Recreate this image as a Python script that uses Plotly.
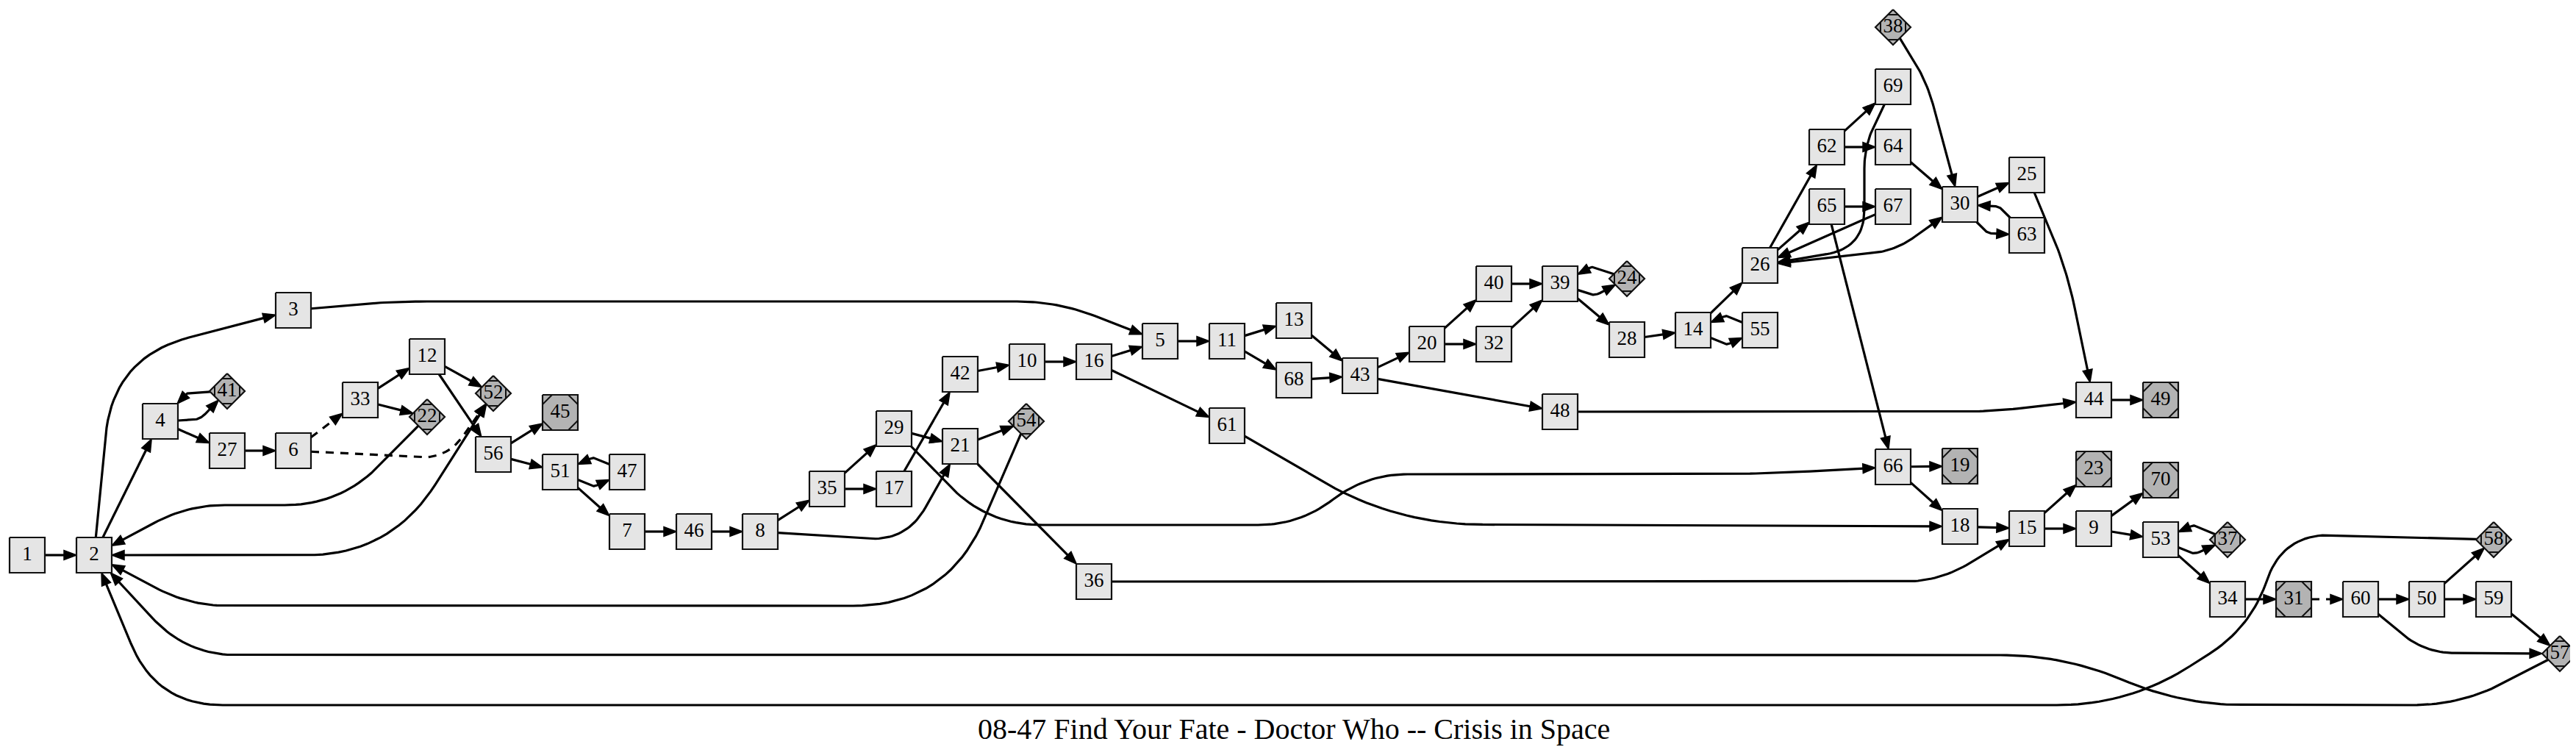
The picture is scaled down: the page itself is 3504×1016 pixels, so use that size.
import math
import plotly.graph_objects as go

W, H = 3504, 1016
TITLE = "08-47 Find Your Fate - Doctor Who -- Crisis in Space"

# ---- nodes (ids and positions) ----
node_ids = ["1", "2", "3", "4", "41", "27", "6", "33", "12", "22", "52", "56", "45", "51", "47",
            "7", "46", "8", "35", "29", "17", "42", "21", "10", "16", "54", "5", "11", "13", "68",
            "43", "61", "36", "20", "40", "32", "39", "24", "28", "14", "55", "26", "48", "62",
            "65", "69", "64", "67", "38", "30", "66", "19", "18", "25", "63", "44", "49", "23",
            "70", "15", "9", "53", "37", "34", "31", "60", "50", "59", "58", "57"]
node_x = [29, 120, 391, 210, 301, 301, 391, 482, 573, 573, 663, 663, 754, 754, 845,
          845, 936, 1026, 1117, 1208, 1208, 1298, 1298, 1389, 1480, 1388, 1570, 1661, 1752, 1752,
          1842, 1661, 1480, 1933, 2024, 2024, 2114, 2205, 2205, 2295, 2386, 2386, 2114, 2477,
          2477, 2567, 2567, 2567, 2567, 2658, 2567, 2658, 2658, 2749, 2749, 2840, 2931, 2840,
          2931, 2749, 2840, 2931, 3022, 3022, 3112, 3203, 3293, 3384, 3384, 3474]
node_y = [747, 747, 414, 565, 524, 605, 605, 536, 477, 559, 527, 610, 553, 634, 634,
          715, 715, 715, 657, 575, 657, 501, 599, 484, 484, 565, 456, 456, 428, 509,
          503, 571, 783, 460, 378, 460, 378, 371, 454, 441, 441, 353, 552, 192,
          273, 110, 192, 273, 29, 270, 627, 626, 708, 230, 312, 536, 536, 630,
          645, 711, 711, 726, 726, 807, 807, 807, 807, 807, 726, 881]
diamond_ids = ["41", "22", "52", "54", "24", "38", "37", "58", "57"]
msquare_ids = ["45", "19", "49", "23", "70", "31"]

# ---- edges ----
edges = [("1", "2"), ("2", "3"), ("2", "4"), ("2", "52"), ("3", "5"), ("4", "41"), ("41", "4"),
         ("4", "27"), ("27", "6"), ("6", "33"), ("6", "52"), ("33", "12"), ("33", "22"),
         ("12", "52"), ("12", "56"), ("22", "2"), ("56", "45"), ("56", "51"), ("51", "47"),
         ("47", "51"), ("51", "7"), ("7", "46"), ("46", "8"), ("8", "35"), ("8", "21"),
         ("35", "29"), ("35", "17"), ("17", "42"), ("29", "21"), ("29", "66"), ("42", "10"),
         ("10", "16"), ("16", "5"), ("16", "61"), ("21", "54"), ("21", "36"), ("54", "2"),
         ("5", "11"), ("11", "13"), ("11", "68"), ("13", "43"), ("68", "43"), ("43", "20"),
         ("43", "48"), ("61", "18"), ("36", "15"), ("20", "40"), ("20", "32"), ("40", "39"),
         ("32", "39"), ("39", "24"), ("24", "39"), ("39", "28"), ("28", "14"), ("14", "55"),
         ("55", "14"), ("14", "26"), ("26", "62"), ("26", "65"), ("26", "30"), ("62", "69"),
         ("62", "64"), ("65", "67"), ("65", "66"), ("69", "26"), ("67", "26"), ("64", "30"),
         ("38", "30"), ("30", "25"), ("30", "63"), ("63", "30"), ("25", "44"), ("48", "44"),
         ("44", "49"), ("66", "19"), ("66", "18"), ("18", "15"), ("15", "23"), ("15", "9"),
         ("9", "70"), ("9", "53"), ("53", "37"), ("37", "53"), ("53", "34"), ("34", "31"),
         ("31", "60"), ("60", "50"), ("60", "57"), ("50", "58"), ("50", "59"), ("59", "57"),
         ("57", "2"), ("58", "2")]
dashed_edges = [("6", "33"), ("6", "52"), ("31", "60")]
both_edges = [("2", "52"), ("26", "30")]
edge_bends = {
    ("2", "3"): [(146, 478)],
    ("3", "5"): [(520, 402), (1430, 402)],
    ("22", "2"): [(455, 679), (247, 679)],
    ("2", "52"): [(523, 747)],
    ("6", "52"): [(600, 616)],
    ("54", "2"): [(1280, 816), (250, 816)],
    ("57", "2"): [(3340, 951), (2960, 951), (2800, 883), (246, 883)],
    ("58", "2"): [(3097, 718), (3054, 845), (2888, 951), (205, 951)],
    ("29", "66"): [(1335, 706), (1760, 706), (1850, 637), (2380, 637)],
    ("61", "18"): [(1890, 705)],
    ("8", "21"): [(1225, 728)],
    ("36", "15"): [(2630, 783)],
    ("25", "44"): [(2803, 357)],
    ("38", "30"): [(2613, 103)],
    ("48", "44"): [(2700, 552)],
    ("69", "26"): [(2528, 190), (2528, 329)],
    ("26", "30"): [(2570, 333)],
    ("60", "57"): [(3290, 880)],
}

# ---- styling constants ----
HALF = 24
AL, AW = 17, 6.5
PAIR_OFF = 20
FONT = "Liberation Serif, Times New Roman, serif"

pos = {n: (x, y) for n, x, y in zip(node_ids, node_x, node_y)}
dset, mset = set(diamond_ids), set(msquare_ids)
edge_set = set(edges)


def unit(dx, dy):
    l = math.hypot(dx, dy) or 1.0
    return dx / l, dy / l


def clip(nid, tx, ty):
    cx, cy = pos[nid]
    ux, uy = unit(tx - cx, ty - cy)
    if nid in dset:
        s = 1.0 / (abs(ux) / HALF + abs(uy) / HALF)
    else:
        s = min(HALF / abs(ux) if abs(ux) > 1e-9 else 1e9, HALF / abs(uy) if abs(uy) > 1e-9 else 1e9)
    return cx + s * ux, cy + s * uy


def smooth(pts, R=170):
    out = [pts[0]]
    for i in range(1, len(pts) - 1):
        p0, p1, p2 = pts[i - 1], pts[i], pts[i + 1]
        lin = math.hypot(p1[0] - p0[0], p1[1] - p0[1])
        lout = math.hypot(p2[0] - p1[0], p2[1] - p1[1])
        d = min(0.5 * lin, 0.5 * lout, R)
        ui = unit(p1[0] - p0[0], p1[1] - p0[1])
        uo = unit(p2[0] - p1[0], p2[1] - p1[1])
        a = (p1[0] - d * ui[0], p1[1] - d * ui[1])
        b = (p1[0] + d * uo[0], p1[1] + d * uo[1])
        for k in range(21):
            t = k / 20
            x = (1 - t) ** 2 * a[0] + 2 * (1 - t) * t * p1[0] + t * t * b[0]
            y = (1 - t) ** 2 * a[1] + 2 * (1 - t) * t * p1[1] + t * t * b[1]
            out.append((x, y))
    out.append(pts[-1])
    return out


def arrow(tip, u):
    bx, by = tip[0] - AL * u[0], tip[1] - AL * u[1]
    px, py = -u[1], u[0]
    return [tip, (bx + AW * px, by + AW * py), (bx - AW * px, by - AW * py), tip]


solid_x, solid_y, dash_x, dash_y, ah_x, ah_y = [], [], [], [], [], []
for (s, t) in edges:
    bends = list(edge_bends.get((s, t), []))
    if not bends and (t, s) in edge_set:
        (sx, sy), (tx, ty) = pos[s], pos[t]
        u = unit(tx - sx, ty - sy)
        bends = [((sx + tx) / 2 - u[1] * PAIR_OFF, (sy + ty) / 2 + u[0] * PAIR_OFF)]
    first = bends[0] if bends else pos[t]
    last = bends[-1] if bends else pos[s]
    start = clip(s, *first)
    end = clip(t, *last)
    ue = unit(end[0] - last[0], end[1] - last[1]) if bends else unit(end[0] - start[0], end[1] - start[1])
    ah = arrow(end, ue)
    ah_x += [p[0] for p in ah] + [None]
    ah_y += [p[1] for p in ah] + [None]
    line_end = (end[0] - AL * ue[0] * 0.9, end[1] - AL * ue[1] * 0.9)
    line_start = start
    if (s, t) in both_edges:
        us = unit(first[0] - start[0], first[1] - start[1])
        ah2 = arrow(start, (-us[0], -us[1]))
        ah_x += [p[0] for p in ah2] + [None]
        ah_y += [p[1] for p in ah2] + [None]
        line_start = (start[0] + AL * us[0] * 0.9, start[1] + AL * us[1] * 0.9)
    pts = smooth([line_start] + bends + [line_end])
    if (s, t) in dashed_edges:
        dash_x += [p[0] for p in pts] + [None]
        dash_y += [p[1] for p in pts] + [None]
    else:
        solid_x += [p[0] for p in pts] + [None]
        solid_y += [p[1] for p in pts] + [None]

# ---- node outlines ----
box_x, box_y, term_x, term_y, dec_x, dec_y = [], [], [], [], [], []
for n in node_ids:
    cx, cy = pos[n]
    if n in dset:
        poly = [(cx, cy - HALF), (cx + HALF, cy), (cx, cy + HALF), (cx - HALF, cy), (cx, cy - HALF)]
        term_x += [p[0] for p in poly] + [None]
        term_y += [p[1] for p in poly] + [None]
        c = 7
        segs = [((cx - c, cy - HALF + c), (cx + c, cy - HALF + c)),
                ((cx - c, cy + HALF - c), (cx + c, cy + HALF - c)),
                ((cx - HALF + c, cy - c), (cx - HALF + c, cy + c)),
                ((cx + HALF - c, cy - c), (cx + HALF - c, cy + c))]
    else:
        poly = [(cx - HALF, cy - HALF), (cx + HALF, cy - HALF), (cx + HALF, cy + HALF),
                (cx - HALF, cy + HALF), (cx - HALF, cy - HALF)]
        segs = []
        if n in mset:
            term_x += [p[0] for p in poly] + [None]
            term_y += [p[1] for p in poly] + [None]
            c = 13
            segs = [((cx - HALF + c, cy - HALF), (cx - HALF, cy - HALF + c)),
                    ((cx + HALF - c, cy - HALF), (cx + HALF, cy - HALF + c)),
                    ((cx - HALF + c, cy + HALF), (cx - HALF, cy + HALF - c)),
                    ((cx + HALF - c, cy + HALF), (cx + HALF, cy + HALF - c))]
        else:
            box_x += [p[0] for p in poly] + [None]
            box_y += [p[1] for p in poly] + [None]
    for a, b in segs:
        dec_x += [a[0], b[0], None]
        dec_y += [a[1], b[1], None]

fig = go.Figure()
fig.add_trace(go.Scatter(x=solid_x, y=solid_y, mode="lines", hoverinfo="skip",
                         line=dict(color="black", width=3.2)))
fig.add_trace(go.Scatter(x=dash_x, y=dash_y, mode="lines", hoverinfo="skip",
                         line=dict(color="black", width=3.2, dash="11px,9px")))
fig.add_trace(go.Scatter(x=ah_x, y=ah_y, mode="lines", fill="toself", fillcolor="black",
                         hoverinfo="skip", line=dict(color="black", width=1.5)))
fig.add_trace(go.Scatter(x=box_x, y=box_y, mode="lines", fill="toself", fillcolor="#e5e5e5",
                         hoverinfo="skip", line=dict(color="#111111", width=2.2)))
fig.add_trace(go.Scatter(x=term_x, y=term_y, mode="lines", fill="toself", fillcolor="#b3b3b3",
                         hoverinfo="skip", line=dict(color="#111111", width=2.2)))
fig.add_trace(go.Scatter(x=dec_x, y=dec_y, mode="lines", hoverinfo="skip",
                         line=dict(color="#111111", width=2.0)))
fig.add_trace(go.Scatter(x=node_x, y=node_y, mode="text", text=node_ids, hoverinfo="skip",
                         textposition="middle center",
                         textfont=dict(family=FONT, size=27, color="black")))

fig.add_annotation(x=W / 2, y=983, xref="x", yref="y", text=TITLE, showarrow=False,
                   xanchor="center", yanchor="middle",
                   font=dict(family=FONT, size=40, color="black"))

fig.update_layout(width=W, height=H, margin=dict(l=0, r=0, t=0, b=0),
                  paper_bgcolor="white", plot_bgcolor="white", showlegend=False)
fig.update_xaxes(range=[0, W], visible=False, showgrid=False, zeroline=False, fixedrange=True)
fig.update_yaxes(range=[H, 0], visible=False, showgrid=False, zeroline=False, fixedrange=True)
fig.write_html("out.html")
